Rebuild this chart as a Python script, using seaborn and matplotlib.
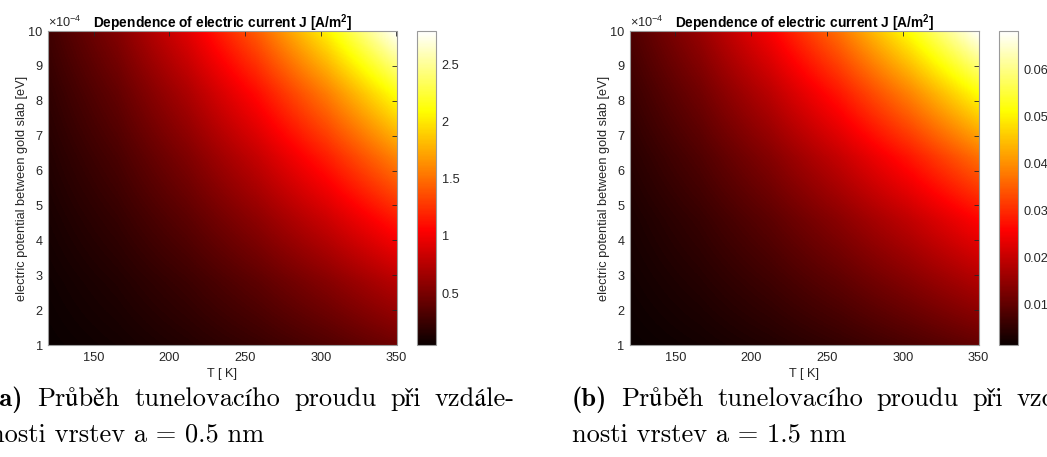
import numpy as np
import matplotlib
matplotlib.use("Agg")
import matplotlib.pyplot as plt
import seaborn as sns

# ---------------- data ----------------
T_nodes = [120, 166, 212, 258, 304, 350]          # T [K]
V_nodes = [1.0, 2.8, 4.6, 6.4, 8.2, 10.0]         # potential, x 1e-4 eV

# current density J [A/m^2], rows = V_nodes (bottom -> top), cols = T_nodes
J_a = [
    [0.046, 0.089, 0.153, 0.235, 0.337, 0.460],
    [0.072, 0.146, 0.250, 0.385, 0.552, 0.753],
    [0.109, 0.222, 0.380, 0.585, 0.838, 1.144],
    [0.151, 0.308, 0.528, 0.813, 1.166, 1.590],
    [0.201, 0.411, 0.704, 1.084, 1.554, 2.120],
    [0.265, 0.541, 0.926, 1.426, 2.045, 2.790],
]
J_b = [
    [0.0013, 0.0023, 0.0037, 0.0055, 0.0077, 0.0102],
    [0.0021, 0.0040, 0.0065, 0.0096, 0.0134, 0.0177],
    [0.0030, 0.0058, 0.0095, 0.0141, 0.0195, 0.0259],
    [0.0043, 0.0083, 0.0135, 0.0200, 0.0277, 0.0368],
    [0.0060, 0.0115, 0.0187, 0.0277, 0.0385, 0.0511],
    [0.0080, 0.0153, 0.0250, 0.0370, 0.0514, 0.0681],
]

x_ticks = [150, 200, 250, 300, 350]
y_ticks = [1, 2, 3, 4, 5, 6, 7, 8, 9, 10]
cb_ticks_a = [0.5, 1, 1.5, 2, 2.5]
cb_labels_a = ["0.5", "1", "1.5", "2", "2.5"]
cb_ticks_b = [0.01, 0.02, 0.03, 0.04, 0.05, 0.06]
cb_labels_b = ["0.01", "0.02", "0.03", "0.04", "0.05", "0.06"]

title = r"Dependence of electric current J [A/m$^\mathbf{2}$]"
xlabel = "T [ K]"
ylabel = "electric potential between gold slab [eV]"
y_scale = r"$\times10^{-4}$"

cap_a_tag, cap_a_words, cap_a_2 = "(a)", ["Průběh", "tunelovacího", "proudu", "při", "vzdále-"], "nosti vrstev a = 0.5 nm"
cap_b_tag, cap_b_words, cap_b_2 = "(b)", ["Průběh", "tunelovacího", "proudu", "při", "vzdále-"], "nosti vrstev a = 1.5 nm"

# ---------------- style ----------------
sns.set_theme(style="white")
plt.rcParams["font.family"] = ["Liberation Sans", "DejaVu Sans"]
plt.rcParams["mathtext.fontset"] = "custom"
plt.rcParams["mathtext.rm"] = "Liberation Sans"
plt.rcParams["mathtext.bf"] = "Liberation Sans:bold"
cmap = sns.color_palette("hot", as_cmap=True)

W, H = 1047, 457
fig = plt.figure(figsize=(W / 100, H / 100), dpi=100)
fig.patch.set_facecolor("white")


def rect(l, t, r, b):
    return [l / W, 1 - b / H, (r - l) / W, (b - t) / H]


TXT = "#262626"
FRAME = "#9a9a9a"
FS = 9.2

panels = [
    (J_a, 48.3, 396.5, 416.7, 436.0, cb_ticks_a, cb_labels_a, -10, (cap_a_tag, cap_a_words, cap_a_2)),
    (J_b, 630.0, 978.5, 999.0, 1017.7, cb_ticks_b, cb_labels_b, 572, (cap_b_tag, cap_b_words, cap_b_2)),
]

renderer = fig.canvas.get_renderer()
cap_kw = dict(fontsize=19, color="black", va="baseline", ha="left")
LINE_W = 525  # justified width of first caption line (px)

for J, l, r, cl, cr, cbt, cbl, capx, caps in panels:
    data = np.array(J)
    ax = fig.add_axes(rect(l, 31, r, 345))
    dT = T_nodes[1] - T_nodes[0]
    dV = V_nodes[1] - V_nodes[0]
    im = ax.imshow(
        data, origin="lower", cmap=cmap, aspect="auto",
        extent=[T_nodes[0] - dT / 2, T_nodes[-1] + dT / 2, V_nodes[0] - dV / 2, V_nodes[-1] + dV / 2],
        interpolation="bilinear", interpolation_stage="data",
        vmin=data.min(), vmax=data.max(),
    )
    ax.set_xlim(T_nodes[0], T_nodes[-1])
    ax.set_ylim(V_nodes[0], V_nodes[-1])
    ax.set_xticks(x_ticks)
    ax.set_yticks(y_ticks)
    ax.set_xticklabels([str(t) for t in x_ticks])
    ax.set_yticklabels([str(t) for t in y_ticks])
    ax.tick_params(direction="in", length=3.5, width=0.6, color=TXT, top=True, right=True,
                   labelsize=FS, labelcolor=TXT)
    ax.tick_params(axis="x", pad=5)
    ax.tick_params(axis="y", pad=4)
    for s in ax.spines.values():
        s.set_edgecolor(FRAME)
        s.set_linewidth(0.8)
    ax.set_xlabel(xlabel, fontsize=FS, color=TXT, labelpad=3)
    ax.set_ylabel(ylabel, fontsize=FS, color=TXT, labelpad=0.5)
    ax.set_title(title, fontsize=9.9, fontweight="bold", color="black", pad=2)
    ax.text(0.0, 1 + 4 / 314, y_scale, transform=ax.transAxes, fontsize=9.2, color=TXT,
            ha="left", va="baseline")

    cax = fig.add_axes(rect(cl, 31, cr, 345))
    cb = fig.colorbar(im, cax=cax, ticks=cbt)
    cb.set_ticklabels(cbl)
    cax.tick_params(direction="in", length=3, width=0.6, color=TXT, labelsize=FS, labelcolor=TXT, pad=4)
    cb.outline.set_edgecolor(FRAME)
    cb.outline.set_linewidth(0.8)

    # caption: first line justified, second line flush left
    tag, words, line2 = caps
    y1 = 1 - 406 / H
    tag_t = fig.text(capx / W, y1, tag, family=["cmb10", "STIXGeneral"], fontweight="bold", **cap_kw)
    items = [tag_t]
    for w in words:
        items.append(fig.text(0, y1, w, family=["cmr10", "STIXGeneral"], **cap_kw))
    widths = [t.get_window_extent(renderer=renderer).width for t in items]
    gap = (LINE_W - sum(widths)) / (len(items) - 1)
    xpos = capx
    for t, wd in zip(items, widths):
        t.set_x(xpos / W)
        xpos += wd + gap
    fig.text(capx / W, 1 - 441 / H, line2, family=["cmr10", "STIXGeneral"], **cap_kw)

fig.savefig("out.png", dpi=100)
